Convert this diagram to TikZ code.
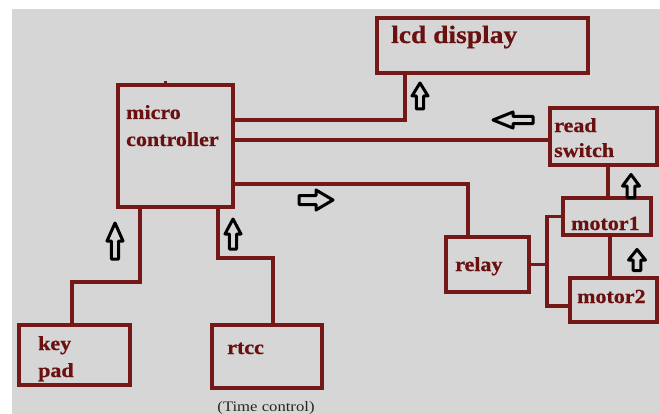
\documentclass[tikz,border=0pt]{standalone}
\usepackage{fontspec}
\setmainfont{Liberation Serif}
\newfontfamily\lbf[FakeStretch=1.1,FakeBold=0.6]{Liberation Serif}
\newfontfamily\tcf[FakeStretch=1.15]{Liberation Serif}
\definecolor{maroon}{HTML}{741818}
\definecolor{txtred}{HTML}{6A1010}
\definecolor{bg}{HTML}{D6D6D6}
\tikzset{
  box/.style={draw=maroon, line width=3.8pt, inner sep=0pt, outer sep=0pt},
  wire/.style={draw=maroon, line width=3.8pt},
  lbl/.style={text=txtred, inner sep=0pt, anchor=base west, font=\lbf\bfseries\fontsize{20}{24}\selectfont},
  biglbl/.style={lbl, font=\lbf\bfseries\fontsize{25}{29}\selectfont},
  harrow/.pic={\draw[black, line width=3pt, fill=bg, line join=round]
     (-1,-0.45) -- (0,-0.45) -- (0,-1) -- (1,0) -- (0,1) -- (0,0.45) -- (-1,0.45) -- cycle;}
}
\begin{document}
\begin{tikzpicture}[x=1pt,y=-1pt]
\useasboundingbox (0,0) rectangle (660,414);
\fill[white] (0,0) rectangle (660,414);
\fill[bg] (12,9) rectangle (660,414);

% boxes
\node[box, minimum width=115pt, minimum height=122pt] (mc) at (175.5,146) {};
\node[box, minimum width=211pt, minimum height=55pt] (lcd) at (482.5,45.5) {};
\node[box, minimum width=107pt, minimum height=57pt] (rs) at (603.5,136.5) {};
\node[box, minimum width=83pt, minimum height=55pt] (relay) at (487.5,264.5) {};
\node[box, minimum width=88pt, minimum height=37pt] (m1) at (607,216.5) {};
\node[box, minimum width=87pt, minimum height=44pt] (m2) at (613.5,300) {};
\node[box, minimum width=111pt, minimum height=60pt] (kp) at (74.5,355) {};
\node[box, minimum width=110pt, minimum height=63pt] (rtcc) at (267,356.5) {};

% labels
\node[lbl] (mct1) at (126,119) {micro};
\node[lbl] (mct2) at (126,146) {controller};
\node[biglbl] (lcdt) at (391,43) {lcd display};
\node[lbl] (rst1) at (554,132) {read};
\node[lbl] (rst2) at (554,157) {switch};
\node[lbl] (relt) at (455,271) {relay};
\node[lbl] (m1t) at (571,230) {motor1};
\node[lbl] (m2t) at (577,303) {motor2};
\node[lbl] (kpt1) at (38,350) {key};
\node[lbl] (kpt2) at (38,377) {pad};
\node[lbl] (rtt) at (227,354) {rtcc};
\node[text=black!85, inner sep=0pt, anchor=base, font=\tcf\fontsize{14.5}{16}\selectfont] (tc) at (266,411) {(Time control)};

% bend coordinates
\coordinate (lcdb) at (405,120);
\coordinate (relb) at (468,184);
\coordinate (bus) at (547,264.5);
\coordinate (kb) at (72,282);
\coordinate (rb) at (273,258);

% connectors
\draw[wire] (mc.north) ++(-10,0) -- ++(0,-4);
\draw[wire] ([yshift=-35pt]mc.north east) -- (lcdb) -- (lcdb |- lcd.south);
\draw[wire] ([yshift=-55pt]mc.north east) -- ([yshift=-55pt]mc.north east -| rs.west);
\draw[wire] ([yshift=-99pt]mc.north east) -- (relb) -- (relb |- relay.north);
\draw[wire] ([xshift=4.5pt]rs.south) -- ([xshift=4.5pt]rs.south |- m1.north);
\draw[wire] ([xshift=3pt]m1.south) -- ([xshift=3pt]m1.south |- m2.north);
\draw[wire] (relay.east) -- (bus);
\draw[wire] (m1.west) -| (bus) |- ([yshift=-6pt]m2.west);
\draw[wire] ([xshift=22pt]mc.south west) |- (kb) -- (kb |- kp.north);
\draw[wire] ([xshift=100pt]mc.south west) |- (rb) -- (rb |- rtcc.north);

% hollow direction arrows
\pic[rotate=90, xscale=13, yscale=8] at (420,96) {harrow};
\pic[rotate=180, xscale=20, yscale=8] at (513,120) {harrow};
\pic[rotate=90, xscale=11.5, yscale=8.5] at (631,186) {harrow};
\pic[rotate=90, xscale=10.5, yscale=8.5] at (637,260) {harrow};
\pic[xscale=17, yscale=10] at (316,200) {harrow};
\pic[rotate=90, xscale=18, yscale=8] at (115,241) {harrow};
\pic[rotate=90, xscale=15, yscale=8] at (233,234) {harrow};
\end{tikzpicture}
\end{document}
